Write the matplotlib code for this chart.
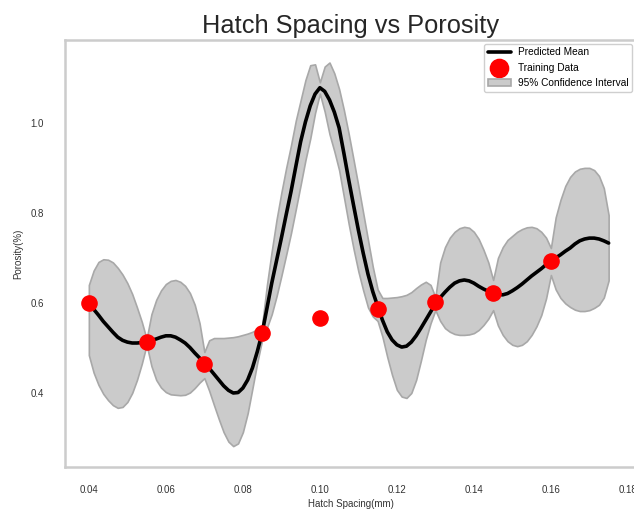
import numpy as np
import matplotlib
matplotlib.use("Agg")
import matplotlib.pyplot as plt

plt.rcParams['font.family'] = ['Liberation Sans', 'DejaVu Sans']

# training samples
hatch_train = [0.04, 0.055, 0.07, 0.085, 0.10, 0.115, 0.13, 0.145, 0.16]
porosity_train = [0.600, 0.513, 0.465, 0.533, 0.567, 0.587, 0.602, 0.622, 0.693]

# GP prediction grid
hatch_pred = [
    0.04, 0.04125, 0.0425, 0.04375, 0.045, 0.04625, 0.0475, 0.04875,
    0.05, 0.05125, 0.0525, 0.05375, 0.055, 0.05625, 0.0575, 0.05875,
    0.06, 0.06125, 0.0625, 0.06375, 0.065, 0.06625, 0.0675, 0.06875,
    0.07, 0.07125, 0.0725, 0.07375, 0.075, 0.07625, 0.0775, 0.07875,
    0.08, 0.08125, 0.0825, 0.08375, 0.085, 0.08625, 0.0875, 0.08875,
    0.09, 0.09125, 0.0925, 0.09375, 0.095, 0.09625, 0.0975, 0.09875,
    0.10, 0.10125, 0.1025, 0.10375, 0.105, 0.10625, 0.1075, 0.10875,
    0.11, 0.11125, 0.1125, 0.11375, 0.115, 0.11625, 0.1175, 0.11875,
    0.12, 0.12125, 0.1225, 0.12375, 0.125, 0.12625, 0.1275, 0.12875,
    0.13, 0.13125, 0.1325, 0.13375, 0.135, 0.13625, 0.1375, 0.13875,
    0.14, 0.14125, 0.1425, 0.14375, 0.145, 0.14625, 0.1475, 0.14875,
    0.15, 0.15125, 0.1525, 0.15375, 0.155, 0.15625, 0.1575, 0.15875,
    0.16, 0.16125, 0.1625, 0.16375, 0.165, 0.16625, 0.1675, 0.16875,
    0.17, 0.17125, 0.1725, 0.17375, 0.175]
mean_pred = [
    0.600, 0.586, 0.573, 0.559, 0.547, 0.535, 0.524, 0.517,
    0.513, 0.511, 0.511, 0.512, 0.513, 0.517, 0.520, 0.524,
    0.527, 0.527, 0.524, 0.518, 0.511, 0.501, 0.489, 0.478,
    0.467, 0.455, 0.442, 0.429, 0.416, 0.406, 0.400, 0.401,
    0.411, 0.429, 0.456, 0.492, 0.533, 0.588, 0.644, 0.694,
    0.744, 0.796, 0.847, 0.903, 0.958, 1.002, 1.038, 1.064,
    1.078, 1.070, 1.051, 1.024, 0.989, 0.932, 0.873, 0.817,
    0.762, 0.711, 0.664, 0.625, 0.593, 0.562, 0.536, 0.518,
    0.507, 0.502, 0.504, 0.513, 0.527, 0.544, 0.562, 0.580,
    0.598, 0.612, 0.624, 0.635, 0.644, 0.649, 0.651, 0.649,
    0.644, 0.637, 0.631, 0.626, 0.622, 0.619, 0.618, 0.621,
    0.627, 0.634, 0.642, 0.651, 0.660, 0.668, 0.676, 0.685,
    0.693, 0.700, 0.707, 0.715, 0.722, 0.731, 0.738, 0.742,
    0.744, 0.744, 0.742, 0.738, 0.733]
upper_ci = [
    0.640, 0.672, 0.691, 0.697, 0.696, 0.690, 0.678, 0.663,
    0.644, 0.620, 0.590, 0.558, 0.520, 0.575, 0.607, 0.628,
    0.642, 0.649, 0.651, 0.647, 0.638, 0.622, 0.596, 0.555,
    0.491, 0.517, 0.522, 0.522, 0.522, 0.523, 0.524, 0.526,
    0.529, 0.532, 0.536, 0.542, 0.551, 0.640, 0.715, 0.785,
    0.845, 0.900, 0.950, 1.005, 1.050, 1.095, 1.128, 1.130,
    1.090, 1.125, 1.134, 1.110, 1.075, 1.028, 0.975, 0.918,
    0.860, 0.800, 0.740, 0.680, 0.630, 0.611, 0.611, 0.612,
    0.613, 0.615, 0.618, 0.624, 0.633, 0.641, 0.647, 0.640,
    0.613, 0.690, 0.724, 0.745, 0.758, 0.766, 0.769, 0.767,
    0.758, 0.742, 0.718, 0.690, 0.651, 0.700, 0.724, 0.740,
    0.749, 0.758, 0.764, 0.768, 0.769, 0.766, 0.758, 0.745,
    0.722, 0.790, 0.829, 0.860, 0.880, 0.892, 0.898, 0.900,
    0.900, 0.895, 0.882, 0.855, 0.795]
lower_ci = [
    0.484, 0.445, 0.418, 0.398, 0.384, 0.373, 0.367, 0.369,
    0.380, 0.400, 0.429, 0.465, 0.507, 0.460, 0.429, 0.412,
    0.402, 0.397, 0.396, 0.395, 0.396, 0.401, 0.411, 0.423,
    0.433, 0.405, 0.373, 0.342, 0.313, 0.292, 0.282, 0.288,
    0.313, 0.355, 0.411, 0.468, 0.518, 0.545, 0.575, 0.615,
    0.660, 0.707, 0.755, 0.808, 0.862, 0.917, 0.965, 1.022,
    1.065, 1.025, 0.975, 0.937, 0.895, 0.835, 0.775, 0.720,
    0.670, 0.628, 0.590, 0.570, 0.560, 0.525, 0.480, 0.440,
    0.407, 0.392, 0.389, 0.400, 0.429, 0.472, 0.518, 0.555,
    0.584, 0.560, 0.544, 0.536, 0.531, 0.529, 0.529, 0.530,
    0.533, 0.540, 0.551, 0.565, 0.584, 0.550, 0.529, 0.515,
    0.507, 0.504, 0.507, 0.515, 0.529, 0.548, 0.573, 0.610,
    0.662, 0.630, 0.611, 0.599, 0.591, 0.585, 0.582, 0.582,
    0.584, 0.589, 0.596, 0.612, 0.650]

x_ticks = [0.04, 0.06, 0.08, 0.10, 0.12, 0.14, 0.16, 0.18]
y_ticks = [0.4, 0.6, 0.8, 1.0]

fig = plt.figure(figsize=(6.34, 5.11), dpi=100)
ax = fig.add_axes([0.1025, 0.0861, 0.9006, 0.8356])

ax.fill_between(hatch_pred, lower_ci, upper_ci, facecolor='#cbcbcb',
                edgecolor='#a8a8a8', linewidth=1.2, label='95% Confidence Interval')
ax.plot(hatch_pred, mean_pred, color='black', linewidth=2.6, label='Predicted Mean',
        solid_capstyle='round', solid_joinstyle='round')
ax.scatter(hatch_train, porosity_train, s=120, color='red', zorder=3,
           label='Training Data')

ax.set_xlim(0.0338, 0.1821)
ax.set_ylim(0.2356, 1.184)
ax.set_xticks(x_ticks)
ax.set_xticklabels([f'{t:.2f}' for t in x_ticks])
ax.set_yticks(y_ticks)
ax.set_yticklabels([f'{t:.1f}' for t in y_ticks])
ax.tick_params(axis='x', length=0, pad=13, labelsize=7, labelcolor='#333333')
ax.tick_params(axis='y', length=0, pad=15, labelsize=7, labelcolor='#333333')

for sp in ax.spines.values():
    sp.set_color('#cccccc')
    sp.set_linewidth(1.8)

ax.set_xlabel('Hatch Spacing(mm)', fontsize=7, color='#333333', labelpad=3)
ax.set_ylabel('Porosity(%)', fontsize=7, color='#333333', labelpad=5)
ax.set_title('Hatch Spacing vs Porosity', fontsize=18.3, color='#262626', pad=5)

handles, labels = ax.get_legend_handles_labels()
order = [labels.index('Predicted Mean'), labels.index('Training Data'),
         labels.index('95% Confidence Interval')]
leg = ax.legend([handles[i] for i in order], [labels[i] for i in order],
                loc='upper right', fontsize=7.3, frameon=True, fancybox=True,
                edgecolor='#c4c4c4', handlelength=2.3, labelspacing=0.55,
                borderaxespad=0.35, borderpad=0.35, handletextpad=0.7,
                markerscale=1.2)
leg.get_frame().set_linewidth(1.0)

fig.savefig('out.png', dpi=100)
